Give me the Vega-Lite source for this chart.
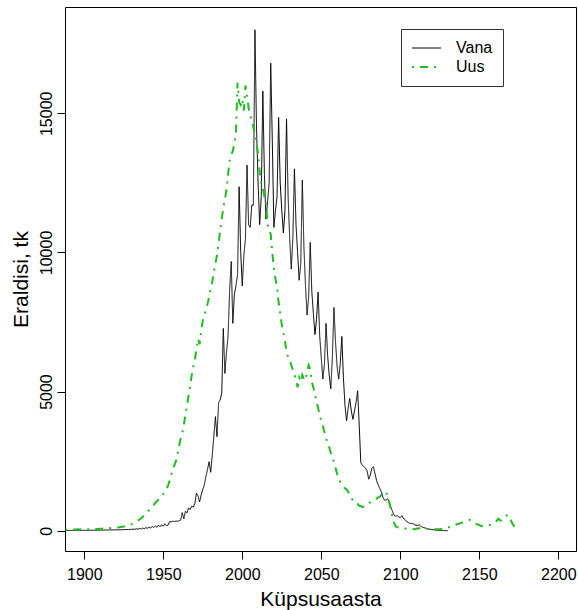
{
  "$schema": "https://vega.github.io/schema/vega-lite/v6.json",
  "width": 511,
  "height": 544,
  "autosize": {"type": "none"},
  "padding": {"left": 65, "top": 7, "right": 2, "bottom": 59},
  "background": "white",
  "config": {
    "view": {"stroke": "black", "strokeWidth": 1},
    "axis": {"labelFont": "Liberation Sans", "titleFont": "Liberation Sans", "labelColor": "black", "titleColor": "black", "tickColor": "black", "domain": false, "grid": false, "titleFontWeight": "normal", "labelFontSize": 16, "titleFontSize": 21, "tickSize": 8}
  },
  "data": {"values": [
{"year":1888,"Vana":5,"Uus":40},{"year":1889,"Vana":8,"Uus":35},{"year":1890,"Vana":6,"Uus":40},{"year":1891,"Vana":10,"Uus":38},{"year":1892,"Vana":7,"Uus":45},{"year":1893,"Vana":12,"Uus":40},{"year":1894,"Vana":8,"Uus":45},{"year":1895,"Vana":10,"Uus":42},{"year":1896,"Vana":9,"Uus":48},{"year":1897,"Vana":12,"Uus":45},{"year":1898,"Vana":10,"Uus":50},{"year":1899,"Vana":14,"Uus":48},
{"year":1900,"Vana":11,"Uus":52},{"year":1901,"Vana":15,"Uus":50},{"year":1902,"Vana":12,"Uus":55},{"year":1903,"Vana":16,"Uus":52},{"year":1904,"Vana":13,"Uus":58},{"year":1905,"Vana":18,"Uus":55},{"year":1906,"Vana":15,"Uus":60},{"year":1907,"Vana":20,"Uus":58},{"year":1908,"Vana":17,"Uus":62},{"year":1909,"Vana":22,"Uus":60},
{"year":1910,"Vana":18,"Uus":66},{"year":1911,"Vana":24,"Uus":70},{"year":1912,"Vana":20,"Uus":75},{"year":1913,"Vana":26,"Uus":72},{"year":1914,"Vana":22,"Uus":80},{"year":1915,"Vana":28,"Uus":85},{"year":1916,"Vana":24,"Uus":90},{"year":1917,"Vana":30,"Uus":95},{"year":1918,"Vana":26,"Uus":100},{"year":1919,"Vana":32,"Uus":105},
{"year":1920,"Vana":28,"Uus":110},{"year":1921,"Vana":34,"Uus":115},{"year":1922,"Vana":30,"Uus":120},{"year":1923,"Vana":38,"Uus":130},{"year":1924,"Vana":32,"Uus":140},{"year":1925,"Vana":42,"Uus":150},{"year":1926,"Vana":36,"Uus":165},{"year":1927,"Vana":46,"Uus":180},{"year":1928,"Vana":40,"Uus":200},{"year":1929,"Vana":52,"Uus":215},
{"year":1930,"Vana":44,"Uus":235},{"year":1931,"Vana":58,"Uus":260},{"year":1932,"Vana":48,"Uus":290},{"year":1933,"Vana":66,"Uus":320},{"year":1934,"Vana":54,"Uus":360},{"year":1935,"Vana":80,"Uus":400},{"year":1936,"Vana":60,"Uus":450},{"year":1937,"Vana":95,"Uus":500},{"year":1938,"Vana":70,"Uus":560},{"year":1939,"Vana":110,"Uus":620},
{"year":1940,"Vana":85,"Uus":680},{"year":1941,"Vana":130,"Uus":740},{"year":1942,"Vana":100,"Uus":800},{"year":1943,"Vana":150,"Uus":860},{"year":1944,"Vana":115,"Uus":930},{"year":1945,"Vana":170,"Uus":1000},{"year":1946,"Vana":125,"Uus":1060},{"year":1947,"Vana":200,"Uus":1120},{"year":1948,"Vana":140,"Uus":1180},{"year":1949,"Vana":220,"Uus":1250},
{"year":1950,"Vana":160,"Uus":1320},{"year":1951,"Vana":250,"Uus":1400},{"year":1952,"Vana":180,"Uus":1500},{"year":1953,"Vana":200,"Uus":1620},{"year":1954,"Vana":330,"Uus":1800},{"year":1955,"Vana":320,"Uus":2000},{"year":1956,"Vana":340,"Uus":2200},{"year":1957,"Vana":330,"Uus":2350},{"year":1958,"Vana":345,"Uus":2500},{"year":1959,"Vana":340,"Uus":2750},
{"year":1960,"Vana":360,"Uus":3050},{"year":1961,"Vana":380,"Uus":3300},{"year":1962,"Vana":650,"Uus":3500},{"year":1963,"Vana":420,"Uus":3800},{"year":1964,"Vana":700,"Uus":4150},{"year":1965,"Vana":640,"Uus":4500},{"year":1966,"Vana":820,"Uus":4850},{"year":1967,"Vana":760,"Uus":5200},{"year":1968,"Vana":880,"Uus":5600},{"year":1969,"Vana":850,"Uus":5900},
{"year":1970,"Vana":980,"Uus":6150},{"year":1971,"Vana":1350,"Uus":6500},{"year":1972,"Vana":1250,"Uus":6900},{"year":1973,"Vana":1030,"Uus":6700},{"year":1974,"Vana":1300,"Uus":7200},{"year":1975,"Vana":1480,"Uus":7550},{"year":1976,"Vana":1650,"Uus":7750},{"year":1977,"Vana":1950,"Uus":7950},{"year":1978,"Vana":2200,"Uus":8150},{"year":1979,"Vana":2480,"Uus":8400},
{"year":1980,"Vana":2100,"Uus":8700},{"year":1981,"Vana":2700,"Uus":8950},{"year":1982,"Vana":3400,"Uus":9300},{"year":1983,"Vana":4100,"Uus":9600},{"year":1984,"Vana":3380,"Uus":9900},{"year":1985,"Vana":4600,"Uus":10300},{"year":1986,"Vana":4700,"Uus":10800},{"year":1987,"Vana":4950,"Uus":11200},{"year":1988,"Vana":7270,"Uus":11600},{"year":1989,"Vana":5650,"Uus":11900},
{"year":1990,"Vana":6400,"Uus":12250},{"year":1991,"Vana":7000,"Uus":12800},{"year":1992,"Vana":8650,"Uus":13300},{"year":1993,"Vana":9670,"Uus":13500},{"year":1994,"Vana":7450,"Uus":13650},{"year":1995,"Vana":8500,"Uus":13900},{"year":1996,"Vana":8800,"Uus":14300},{"year":1997,"Vana":9200,"Uus":16100},{"year":1998,"Vana":12360,"Uus":15400},{"year":1999,"Vana":10000,"Uus":15300},
{"year":2000,"Vana":8800,"Uus":15500},{"year":2001,"Vana":9900,"Uus":15100},{"year":2002,"Vana":10500,"Uus":16000},{"year":2003,"Vana":13140,"Uus":15600},{"year":2004,"Vana":11000,"Uus":15200},{"year":2005,"Vana":10900,"Uus":14900},{"year":2006,"Vana":11700,"Uus":14800},{"year":2007,"Vana":11700,"Uus":14500},{"year":2008,"Vana":18000,"Uus":14250},{"year":2009,"Vana":14500,"Uus":13900},
{"year":2010,"Vana":12500,"Uus":13550},{"year":2011,"Vana":11000,"Uus":12900},{"year":2012,"Vana":12000,"Uus":12500},{"year":2013,"Vana":15800,"Uus":12300},{"year":2014,"Vana":12800,"Uus":12000},{"year":2015,"Vana":11200,"Uus":11850},{"year":2016,"Vana":11800,"Uus":11000},{"year":2017,"Vana":12500,"Uus":10800},{"year":2018,"Vana":16800,"Uus":10650},{"year":2019,"Vana":14000,"Uus":10000},
{"year":2020,"Vana":10900,"Uus":9400},{"year":2021,"Vana":11500,"Uus":9050},{"year":2022,"Vana":12000,"Uus":8750},{"year":2023,"Vana":14850,"Uus":8200},{"year":2024,"Vana":12500,"Uus":7800},{"year":2025,"Vana":11500,"Uus":7400},{"year":2026,"Vana":10700,"Uus":7100},{"year":2027,"Vana":11500,"Uus":6850},{"year":2028,"Vana":14800,"Uus":6400},{"year":2029,"Vana":12000,"Uus":6250},
{"year":2030,"Vana":10500,"Uus":6150},{"year":2031,"Vana":9400,"Uus":5950},{"year":2032,"Vana":10500,"Uus":5780},{"year":2033,"Vana":13000,"Uus":5600},{"year":2034,"Vana":11000,"Uus":5450},{"year":2035,"Vana":10000,"Uus":5150},{"year":2036,"Vana":9000,"Uus":5500},{"year":2037,"Vana":9600,"Uus":5350},{"year":2038,"Vana":12600,"Uus":5600},{"year":2039,"Vana":10200,"Uus":5450},
{"year":2040,"Vana":8800,"Uus":5400},{"year":2041,"Vana":7750,"Uus":5700},{"year":2042,"Vana":8400,"Uus":5950},{"year":2043,"Vana":10360,"Uus":5800},{"year":2044,"Vana":8600,"Uus":5350},{"year":2045,"Vana":7800,"Uus":5150},{"year":2046,"Vana":7050,"Uus":4900},{"year":2047,"Vana":7600,"Uus":4650},{"year":2048,"Vana":8580,"Uus":4400},{"year":2049,"Vana":7000,"Uus":4150},
{"year":2050,"Vana":6200,"Uus":3950},{"year":2051,"Vana":5450,"Uus":3750},{"year":2052,"Vana":6000,"Uus":3550},{"year":2053,"Vana":7450,"Uus":3300},{"year":2054,"Vana":6300,"Uus":3200},{"year":2055,"Vana":5600,"Uus":3000},{"year":2056,"Vana":5100,"Uus":2800},{"year":2057,"Vana":6200,"Uus":2650},{"year":2058,"Vana":8020,"Uus":2450},{"year":2059,"Vana":6800,"Uus":2250},
{"year":2060,"Vana":5900,"Uus":2050},{"year":2061,"Vana":5450,"Uus":1900},{"year":2062,"Vana":6000,"Uus":1750},{"year":2063,"Vana":6980,"Uus":1650},{"year":2064,"Vana":5500,"Uus":1600},{"year":2065,"Vana":4500,"Uus":1520},{"year":2066,"Vana":3950,"Uus":1480},{"year":2067,"Vana":4400,"Uus":1400},{"year":2068,"Vana":4750,"Uus":1250},{"year":2069,"Vana":4300,"Uus":1150},
{"year":2070,"Vana":4000,"Uus":1100},{"year":2071,"Vana":4300,"Uus":1000},{"year":2072,"Vana":4600,"Uus":980},{"year":2073,"Vana":5030,"Uus":960},{"year":2074,"Vana":3800,"Uus":900},{"year":2075,"Vana":2450,"Uus":880},{"year":2076,"Vana":2350,"Uus":850},{"year":2077,"Vana":2300,"Uus":880},{"year":2078,"Vana":2250,"Uus":920},{"year":2079,"Vana":2150,"Uus":980},
{"year":2080,"Vana":1850,"Uus":1000},{"year":2081,"Vana":2000,"Uus":1020},{"year":2082,"Vana":2250,"Uus":1050},{"year":2083,"Vana":2300,"Uus":1080},{"year":2084,"Vana":2050,"Uus":1100},{"year":2085,"Vana":1800,"Uus":1150},{"year":2086,"Vana":1650,"Uus":1200},{"year":2087,"Vana":1520,"Uus":1220},{"year":2088,"Vana":1400,"Uus":1280},{"year":2089,"Vana":1200,"Uus":1340},
{"year":2090,"Vana":1100,"Uus":1380},{"year":2091,"Vana":1100,"Uus":1400},{"year":2092,"Vana":1150,"Uus":1200},{"year":2093,"Vana":1050,"Uus":1000},{"year":2094,"Vana":850,"Uus":750},{"year":2095,"Vana":700,"Uus":500},{"year":2096,"Vana":560,"Uus":300},{"year":2097,"Vana":520,"Uus":160},{"year":2098,"Vana":540,"Uus":130},{"year":2099,"Vana":500,"Uus":110},
{"year":2100,"Vana":470,"Uus":90},{"year":2101,"Vana":540,"Uus":85},{"year":2102,"Vana":440,"Uus":80},{"year":2103,"Vana":400,"Uus":75},{"year":2104,"Vana":330,"Uus":70},{"year":2105,"Vana":290,"Uus":65},{"year":2106,"Vana":270,"Uus":60},{"year":2107,"Vana":250,"Uus":55},{"year":2108,"Vana":260,"Uus":55},{"year":2109,"Vana":210,"Uus":60},
{"year":2110,"Vana":200,"Uus":70},{"year":2111,"Vana":190,"Uus":80},{"year":2112,"Vana":210,"Uus":90},{"year":2113,"Vana":160,"Uus":100},{"year":2114,"Vana":130,"Uus":90},{"year":2115,"Vana":110,"Uus":80},{"year":2116,"Vana":90,"Uus":70},{"year":2117,"Vana":80,"Uus":65},{"year":2118,"Vana":60,"Uus":60},{"year":2119,"Vana":50,"Uus":60},
{"year":2120,"Vana":40,"Uus":55},{"year":2121,"Vana":30,"Uus":55},{"year":2122,"Vana":25,"Uus":50},{"year":2123,"Vana":20,"Uus":50},{"year":2124,"Vana":15,"Uus":50},{"year":2125,"Vana":12,"Uus":55},{"year":2126,"Vana":10,"Uus":60},{"year":2127,"Vana":8,"Uus":65},{"year":2128,"Vana":5,"Uus":75},{"year":2129,"Vana":3,"Uus":90},
{"year":2130,"Vana":0,"Uus":110},{"year":2131,"Uus":130},{"year":2132,"Uus":150},{"year":2133,"Uus":170},{"year":2134,"Uus":190},{"year":2135,"Uus":210},{"year":2136,"Uus":230},{"year":2137,"Uus":250},{"year":2138,"Uus":270},{"year":2139,"Uus":290},
{"year":2140,"Uus":300},{"year":2141,"Uus":320},{"year":2142,"Uus":340},{"year":2143,"Uus":360},{"year":2144,"Uus":390},{"year":2145,"Uus":370},{"year":2146,"Uus":330},{"year":2147,"Uus":290},{"year":2148,"Uus":250},{"year":2149,"Uus":220},
{"year":2150,"Uus":200},{"year":2151,"Uus":180},{"year":2152,"Uus":165},{"year":2153,"Uus":155},{"year":2154,"Uus":160},{"year":2155,"Uus":175},{"year":2156,"Uus":195},{"year":2157,"Uus":215},{"year":2158,"Uus":230},{"year":2159,"Uus":260},
{"year":2160,"Uus":300},{"year":2161,"Uus":350},{"year":2162,"Uus":430},{"year":2163,"Uus":380},{"year":2164,"Uus":360},{"year":2165,"Uus":420},{"year":2166,"Uus":480},{"year":2167,"Uus":530},{"year":2168,"Uus":570},{"year":2169,"Uus":500},
{"year":2170,"Uus":380},{"year":2171,"Uus":250},{"year":2172,"Uus":160},{"year":2173,"Uus":90},{"year":2174,"Uus":40},{"year":2175,"Uus":0}
  ]},
  "transform": [
    {"fold": ["Vana", "Uus"], "as": ["series", "value"]},
    {"filter": "isValid(datum.value)"}
  ],
  "mark": {"type": "line", "clip": true},
  "encoding": {
    "x": {
      "field": "year", "type": "quantitative",
      "scale": {"domain": [1887.8, 2211.2], "nice": false, "zero": false},
      "axis": {"values": [1900, 1950, 2000, 2050, 2100, 2150, 2200], "format": "d", "labelPadding": 7, "title": "Küpsusaasta", "titleBaseline": "alphabetic", "titleY": 54, "labelFlush": false, "labelOverlap": false}
    },
    "y": {
      "field": "value", "type": "quantitative",
      "scale": {"domain": [-730, 18820], "nice": false, "zero": false},
      "axis": {"values": [0, 5000, 10000, 15000], "format": "d", "labelAngle": -90, "labelAlign": "center", "labelBaseline": "alphabetic", "labelPadding": 6, "title": "Eraldisi, tk", "titleAngle": -90, "titleBaseline": "alphabetic", "titleAlign": "center", "titleX": -38, "titleY": 272, "labelFlush": false, "labelOverlap": false}
    },
    "color": {
      "field": "series", "type": "nominal",
      "scale": {"domain": ["Vana", "Uus"], "range": ["black", "#1cbf1c"]},
      "legend": {"title": null, "orient": "none", "legendX": 336, "legendY": 22, "strokeColor": "#333333", "padding": 10, "symbolType": "stroke", "symbolSize": 841, "labelFontSize": 16, "labelFont": "Liberation Sans", "labelColor": "black", "labelOffset": 14, "clipHeight": 18, "rowPadding": 1, "fillColor": "white"}
    },
    "strokeDash": {
      "field": "series", "type": "nominal",
      "scale": {"domain": ["Vana", "Uus"], "range": [[1, 0], [2, 6, 8, 6]]},
      "legend": {"title": null}
    },
    "strokeWidth": {
      "field": "series", "type": "nominal",
      "scale": {"domain": ["Vana", "Uus"], "range": [1, 2]},
      "legend": {"title": null}
    }
  }
}
